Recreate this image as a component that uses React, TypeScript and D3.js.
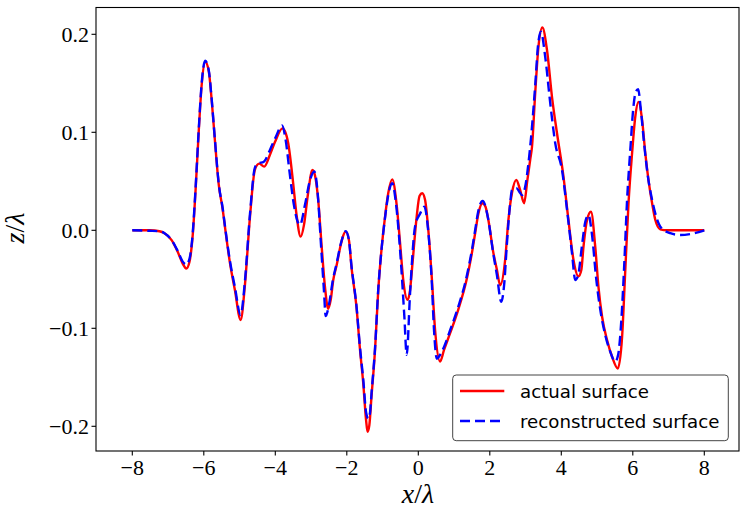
import React from "react";
import * as d3 from "d3";

const xTicks = [-8, -6, -4, -2, 0, 2, 4, 6, 8];
const yTicks = [-0.2, -0.1, 0.0, 0.1, 0.2];
const yTickLabels = ["\u22120.2", "\u22120.1", "0.0", "0.1", "0.2"];
const xTickLabels = ["\u22128", "\u22126", "\u22124", "\u22122", "0", "2", "4", "6", "8"];

const actualX = [-8, -7.52, -7.24, -7.1, -6.9, -6.73, -6.59, -6.49, -6.4, -6.31, -6.23, -6.14, -6.06, -5.96, -5.86, -5.78, -5.69, -5.58, -5.47, -5.41, -5.27, -5.13, -4.97, -4.85, -4.71, -4.57, -4.45, -4.31, -4.15, -4.01, -3.8, -3.73, -3.64, -3.5, -3.41, -3.29, -3.2, -3.09, -2.96, -2.89, -2.8, -2.71, -2.61, -2.52, -2.45, -2.38, -2.28, -2.17, -2.03, -1.94, -1.87, -1.73, -1.63, -1.54, -1.46, -1.42, -1.37, -1.31, -1.21, -1.12, -1.03, -0.93, -0.84, -0.73, -0.61, -0.51, -0.42, -0.3, -0.23, -0.17, -0.045, 0.034, 0.11, 0.19, 0.28, 0.375, 0.47, 0.61, 0.72, 0.89, 1.1, 1.36, 1.5, 1.59, 1.68, 1.8, 1.88, 1.96, 2.1, 2.2, 2.29, 2.43, 2.52, 2.62, 2.74, 2.85, 2.96, 3.05, 3.13, 3.18, 3.27, 3.36, 3.47, 3.6, 3.74, 3.88, 4.06, 4.2, 4.34, 4.48, 4.56, 4.62, 4.72, 4.83, 4.95, 5.04, 5.14, 5.28, 5.42, 5.58, 5.7, 5.79, 5.88, 5.98, 6.07, 6.16, 6.26, 6.35, 6.44, 6.54, 6.63, 6.77, 6.96, 7.5, 8];
const actualZ = [0, 0, -0.001, -0.003, -0.01, -0.022, -0.034, -0.039, -0.032, -0.005, 0.041, 0.102, 0.148, 0.172, 0.162, 0.133, 0.092, 0.046, 0.021, 0.004, -0.033, -0.061, -0.0915, -0.056, 0.013, 0.062, 0.068, 0.065, 0.077, 0.09, 0.104, 0.101, 0.089, 0.048, 0.017, -0.0065, 0.005, 0.036, 0.0615, 0.056, 0.031, -0.013, -0.058, -0.08, -0.071, -0.051, -0.035, -0.015, -0.0014, -0.01, -0.037, -0.078, -0.122, -0.156, -0.194, -0.2055, -0.199, -0.17, -0.122, -0.061, -0.02, 0.014, 0.038, 0.052, 0.0275, -0.013, -0.051, -0.071, -0.061, -0.037, 0.014, 0.035, 0.0378, 0.031, 0.0003, -0.047, -0.102, -0.134, -0.122, -0.105, -0.083, -0.049, -0.023, -0.003, 0.017, 0.0276, 0.024, 0.0105, -0.023, -0.0405, -0.056, -0.03, 0.0105, 0.038, 0.0513, 0.041, 0.0276, 0.051, 0.072, 0.085, 0.14, 0.187, 0.207, 0.184, 0.136, 0.099, 0.055, 0.0105, -0.03, -0.047, -0.0405, -0.017, 0.0105, 0.019, -0.017, -0.058, -0.088, -0.112, -0.129, -0.141, -0.109, -0.0405, 0.0276, 0.0786, 0.116, 0.131, 0.1126, 0.0786, 0.051, 0.0276, 0.0105, 0.001, 0, 0, 0];

const reconX = [-8, -7.52, -7.24, -7.1, -6.9, -6.73, -6.59, -6.49, -6.4, -6.31, -6.23, -6.14, -6.06, -5.96, -5.86, -5.78, -5.69, -5.58, -5.47, -5.41, -5.27, -5.13, -4.97, -4.85, -4.71, -4.57, -4.49, -4.32, -4.15, -3.99, -3.81, -3.71, -3.59, -3.48, -3.31, -3.17, -3.03, -2.91, -2.81, -2.73, -2.64, -2.59, -2.5, -2.39, -2.28, -2.17, -2.03, -1.94, -1.87, -1.73, -1.63, -1.54, -1.46, -1.4, -1.35, -1.31, -1.21, -1.12, -1.03, -0.93, -0.84, -0.73, -0.62, -0.51, -0.39, -0.325, -0.23, -0.09, 0.05, 0.17, 0.27, 0.375, 0.44, 0.52, 0.61, 0.72, 0.89, 1.1, 1.36, 1.5, 1.59, 1.68, 1.8, 1.95, 2.09, 2.2, 2.32, 2.4, 2.48, 2.57, 2.62, 2.74, 2.85, 2.9, 2.99, 3.08, 3.16, 3.27, 3.35, 3.43, 3.55, 3.69, 3.83, 4.02, 4.16, 4.3, 4.39, 4.47, 4.58, 4.67, 4.76, 4.86, 4.98, 5.09, 5.23, 5.37, 5.51, 5.59, 5.68, 5.76, 5.84, 5.93, 6.01, 6.08, 6.15, 6.22, 6.32, 6.43, 6.54, 6.63, 6.77, 7.05, 7.33, 7.61, 8];
const reconZ = [0, -0.0005, -0.001, -0.003, -0.01, -0.021, -0.032, -0.035, -0.029, -0.003, 0.043, 0.104, 0.15, 0.173, 0.163, 0.134, 0.093, 0.047, 0.022, 0.005, -0.031, -0.058, -0.0864, -0.052, 0.016, 0.064, 0.068, 0.07, 0.082, 0.095, 0.107, 0.092, 0.056, 0.026, 0.0054, 0.026, 0.051, 0.06, 0.036, -0.01, -0.061, -0.0875, -0.076, -0.051, -0.033, -0.014, -0.001, -0.01, -0.036, -0.077, -0.12, -0.152, -0.186, -0.192, -0.186, -0.167, -0.12, -0.06, -0.02, 0.013, 0.036, 0.048, 0.026, -0.02, -0.088, -0.127, -0.064, 0.004, 0.017, 0.024, 0.002, -0.051, -0.102, -0.131, -0.127, -0.119, -0.102, -0.08, -0.046, -0.02, 0.0, 0.02, 0.03, 0.0125, -0.022, -0.046, -0.073, -0.056, -0.013, 0.0276, 0.041, 0.043, 0.038, 0.036, 0.0445, 0.068, 0.097, 0.148, 0.189, 0.2027, 0.177, 0.13, 0.089, 0.0615, 0.021, -0.0235, -0.0507, -0.046, -0.015, 0.0085, 0.0156, -0.005, -0.0507, -0.081, -0.107, -0.124, -0.134, -0.127, -0.0915, -0.0355, 0.031, 0.082, 0.123, 0.141, 0.144, 0.125, 0.087, 0.053, 0.031, 0.017, 0.0037, -0.003, -0.0048, -0.0038, 0];

const W = 747;
const H = 521;
const L = 96, R = 739, T = 7.5, B = 451;

export default function App() {
  const x = d3.scaleLinear().domain([-8, 8]).range([132.3, 704.3]);
  const y = d3.scaleLinear().domain([-0.2, 0.2]).range([426.3, 34.3]);
  const line = d3
    .line<[number, number]>()
    .x((d) => x(d[0]))
    .y((d) => y(d[1]))
    .curve(d3.curveMonotoneX);
  const actual = line(actualX.map((v, i) => [v, actualZ[i]] as [number, number])) || "";
  const recon = line(reconX.map((v, i) => [v, reconZ[i]] as [number, number])) || "";
  const tickFont = "'Liberation Serif', 'DejaVu Serif', serif";
  const legFont = "'DejaVu Sans', sans-serif";

  return (
    <svg
      width={W}
      height={H}
      style={{ position: "absolute", left: 0, top: 0, background: "#fff" }}
    >
      <rect x={0} y={0} width={W} height={H} fill="#fff" />
      <defs>
        <clipPath id="plotclip">
          <rect x={L} y={T} width={R - L} height={B - T} />
        </clipPath>
      </defs>
      <g clipPath="url(#plotclip)">
        <path d={actual} fill="none" stroke="#ff0000" strokeWidth={2.4} strokeLinejoin="round" />
        <path d={recon} fill="none" stroke="#0000ff" strokeWidth={2.4} strokeDasharray="10,5" strokeLinejoin="round" />
      </g>
      <rect x={L} y={T} width={R - L} height={B - T} fill="none" stroke="#000" strokeWidth={1.1} />
      {xTicks.map((t, i) => (
        <g key={"x" + i}>
          <line x1={x(t)} x2={x(t)} y1={B} y2={B + 4.5} stroke="#000" strokeWidth={1.1} />
          <text x={x(t)} y={475} textAnchor="middle" fontFamily={tickFont} fontSize={22} fill="#000">
            {xTickLabels[i]}
          </text>
        </g>
      ))}
      {yTicks.map((t, i) => (
        <g key={"y" + i}>
          <line x1={L - 4.5} x2={L} y1={y(t)} y2={y(t)} stroke="#000" strokeWidth={1.1} />
          <text x={89} y={y(t) + 7.5} textAnchor="end" fontFamily={tickFont} fontSize={22} fill="#000">
            {yTickLabels[i]}
          </text>
        </g>
      ))}
      <text x={418} y={503} textAnchor="middle" fontFamily={tickFont} fontSize={28} fill="#000">
        <tspan fontStyle="italic">x</tspan>/<tspan fontStyle="italic">λ</tspan>
      </text>
      <text
        transform="translate(24,228) rotate(-90)"
        textAnchor="middle"
        fontFamily={tickFont}
        fontSize={28}
        fill="#000"
      >
        <tspan fontStyle="italic">z</tspan>/<tspan fontStyle="italic">λ</tspan>
      </text>
      <g>
        <rect x={452.7} y={375} width={275.6} height={65.7} rx={3.5} fill="#fff" fillOpacity={0.85} stroke="#444" strokeWidth={1} />
        <line x1={460} x2={504.3} y1={391} y2={391} stroke="#ff0000" strokeWidth={2.4} />
        <line x1={460} x2={504.3} y1={421} y2={421} stroke="#0000ff" strokeWidth={2.4} strokeDasharray="10,5" />
        <text x={520} y={397.5} fontFamily={legFont} fontSize={18.2} fill="#000">actual surface</text>
        <text x={520} y={427.5} fontFamily={legFont} fontSize={18.2} fill="#000">reconstructed surface</text>
      </g>
    </svg>
  );
}
